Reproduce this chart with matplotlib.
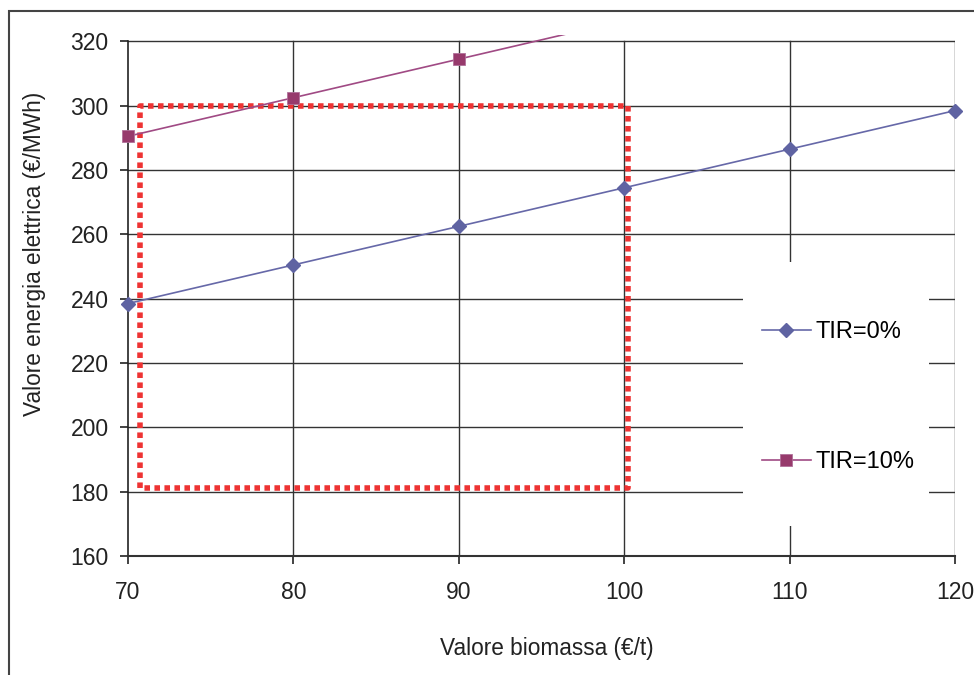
import matplotlib.pyplot as plt
from matplotlib.patches import Rectangle

plt.rcParams['font.family'] = ['Liberation Sans', 'DejaVu Sans']

# biomass price (€/t) and resulting electricity value (€/MWh)
biomassa = [70, 80, 90, 100, 110, 120]
tir0 = [238.5, 250.5, 262.5, 274.5, 286.5, 298.5]
biomassa_tir10 = [70, 80, 90, 100]
tir10 = [290.5, 302.5, 314.5, 326.5]

# range of interest (x0, x1, y0, y1)
area = [70.7, 100.2, 181.2, 300]

xticks = [70, 80, 90, 100, 110, 120]
yticks = [160, 180, 200, 220, 240, 260, 280, 300, 320]

fig = plt.figure(figsize=(9.74, 6.75), dpi=100)
ax = fig.add_axes([128 / 974, 1 - 556 / 675, 827 / 974, 521 / 675])

# outer frame around the whole chart
fig.patches.append(Rectangle((9 / 974, -0.2), 1.2, 1.2 - 11 / 675,
                             transform=fig.transFigure, fill=False,
                             edgecolor='#444444', linewidth=1.5))

ax.set_xlim(70, 120)
ax.set_ylim(160, 322)
ax.set_xticks(xticks)
ax.set_yticks(yticks)

for x in xticks[1:]:
    ax.axvline(x, ymax=(320 - 160) / (322 - 160), color='#333333', lw=1.0, zorder=1)
for y in yticks[1:]:
    ax.axhline(y, color='#333333', lw=1.0, zorder=1)

for s in ['top', 'right']:
    ax.spines[s].set_visible(False)
ax.spines['left'].set_bounds(160, 320)
ax.spines['left'].set_color('#222222')
ax.spines['bottom'].set_color('#333333')
ax.spines['left'].set_linewidth(1.2)
ax.spines['bottom'].set_linewidth(1.5)

# white area behind the legend
ax.add_patch(Rectangle((107.2, 169.3), 11.2, 82.1, facecolor='white',
                       edgecolor='none', zorder=2))

x0, x1, y0, y1 = area
ax.plot([x0, x0, x1, x1, x0], [y0, y1, y1, y0, y0], color='#EE3333', lw=4.0,
        linestyle=(0, (1.0, 0.8)), zorder=3)

l0, = ax.plot(biomassa, tir0, color='#6668A8', lw=1.2, marker='D', markersize=6.8,
              markerfacecolor='#5F63A2', markeredgecolor='#5F63A2', zorder=4,
              label='TIR=0%', clip_on=False)
l1, = ax.plot(biomassa_tir10, tir10, color='#A04A84', lw=1.2, marker='s', markersize=9,
              markerfacecolor='#973A6C', markeredgecolor='#B0709A', markeredgewidth=0.6,
              zorder=4, label='TIR=10%')
# clip only at the top so the end markers stay whole
clip = Rectangle((-0.05, -0.05), 1.1, 1.05, transform=ax.transAxes)
l1.set_clip_path(clip)

ax.legend(handles=[l0, l1], loc='upper left', bbox_to_anchor=(762 / 974, 1 - 321 / 675),
          bbox_transform=fig.transFigure, frameon=False, fontsize=17,
          handlelength=2.07, handletextpad=0.2, labelspacing=4.57, borderpad=0,
          borderaxespad=0)

ax.tick_params(axis='both', labelsize=16.5, colors='#222222', length=6, width=1.2,
               direction='out')
ax.tick_params(axis='y', pad=8)
ax.tick_params(axis='x', pad=12)

ax.set_xlabel('Valore biomassa (€/t)', fontsize=16.3, color='#222222', va='center')
ax.xaxis.set_label_coords(0.5067, -0.1785)
ax.set_ylabel('Valore energia elettrica (€/MWh)', fontsize=16.3, color='#222222', va='center')
ax.yaxis.set_label_coords(-0.1125, 0.58)

fig.savefig('out.png', dpi=100)
